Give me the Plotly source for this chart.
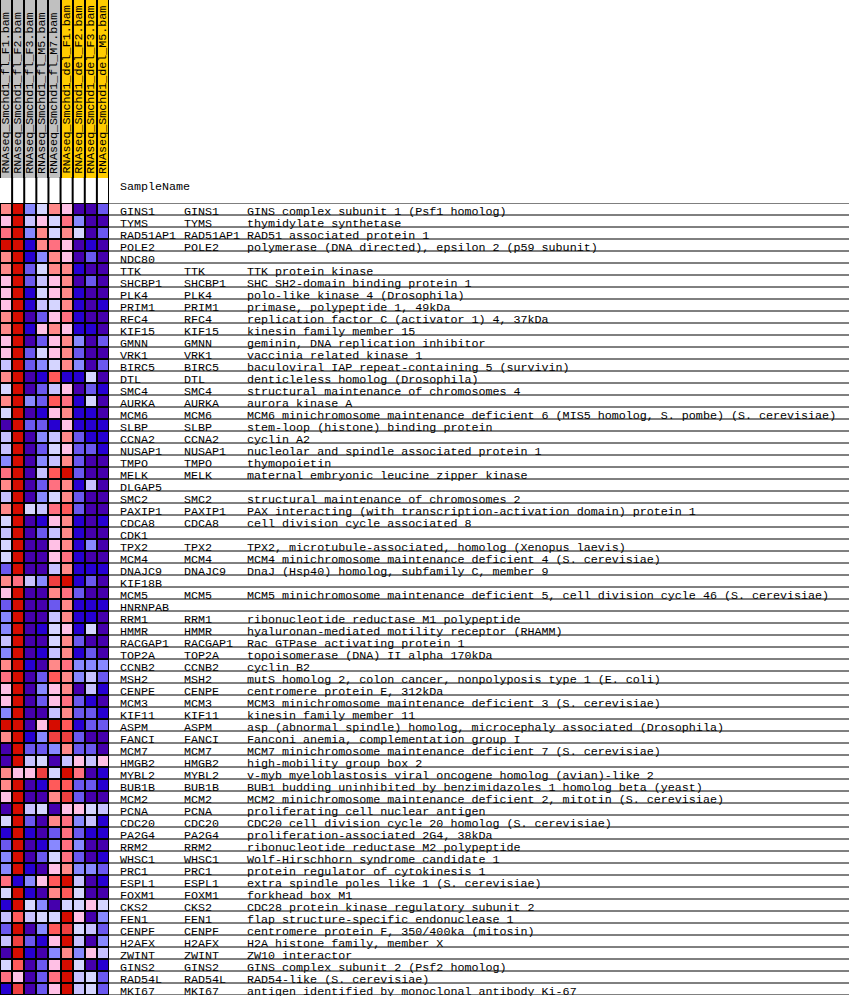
import plotly.graph_objects as go

W, H = 849, 996

samples = ["RNAseq_Smchd1_fl_F1.bam", "RNAseq_Smchd1_fl_F2.bam", "RNAseq_Smchd1_fl_F3.bam",
           "RNAseq_Smchd1_fl_M5.bam", "RNAseq_Smchd1_fl_M7.bam", "RNAseq_Smchd1_del_F1.bam",
           "RNAseq_Smchd1_del_F2.bam", "RNAseq_Smchd1_del_F3.bam", "RNAseq_Smchd1_del_M5.bam"]
sample_group = [0, 0, 0, 0, 0, 1, 1, 1, 1]

genes = ["GINS1", "TYMS", "RAD51AP1", "POLE2", "NDC80", "TTK", "SHCBP1", "PLK4", "PRIM1", "RFC4",
         "KIF15", "GMNN", "VRK1", "BIRC5", "DTL", "SMC4", "AURKA", "MCM6", "SLBP", "CCNA2",
         "NUSAP1", "TMPO", "MELK", "DLGAP5", "SMC2", "PAXIP1", "CDCA8", "CDK1", "TPX2", "MCM4",
         "DNAJC9", "KIF18B", "MCM5", "HNRNPAB", "RRM1", "HMMR", "RACGAP1", "TOP2A", "CCNB2", "MSH2",
         "CENPE", "MCM3", "KIF11", "ASPM", "FANCI", "MCM7", "HMGB2", "MYBL2", "BUB1B", "MCM2",
         "PCNA", "CDC20", "PA2G4", "RRM2", "WHSC1", "PRC1", "ESPL1", "FOXM1", "CKS2", "FEN1",
         "CENPF", "H2AFX", "ZWINT", "GINS2", "RAD54L", "MKI67"]

symbols = ["GINS1", "TYMS", "RAD51AP1", "POLE2", "", "TTK", "SHCBP1", "PLK4", "PRIM1", "RFC4",
           "KIF15", "GMNN", "VRK1", "BIRC5", "DTL", "SMC4", "AURKA", "MCM6", "SLBP", "CCNA2",
           "NUSAP1", "TMPO", "MELK", "", "SMC2", "PAXIP1", "CDCA8", "", "TPX2", "MCM4",
           "DNAJC9", "", "MCM5", "", "RRM1", "HMMR", "RACGAP1", "TOP2A", "CCNB2", "MSH2",
           "CENPE", "MCM3", "KIF11", "ASPM", "FANCI", "MCM7", "HMGB2", "MYBL2", "BUB1B", "MCM2",
           "PCNA", "CDC20", "PA2G4", "RRM2", "WHSC1", "PRC1", "ESPL1", "FOXM1", "CKS2", "FEN1",
           "CENPF", "H2AFX", "ZWINT", "GINS2", "RAD54L", "MKI67"]

descriptions = [
    "GINS complex subunit 1 (Psf1 homolog)",
    "thymidylate synthetase",
    "RAD51 associated protein 1",
    "polymerase (DNA directed), epsilon 2 (p59 subunit)",
    "",
    "TTK protein kinase",
    "SHC SH2-domain binding protein 1",
    "polo-like kinase 4 (Drosophila)",
    "primase, polypeptide 1, 49kDa",
    "replication factor C (activator 1) 4, 37kDa",
    "kinesin family member 15",
    "geminin, DNA replication inhibitor",
    "vaccinia related kinase 1",
    "baculoviral IAP repeat-containing 5 (survivin)",
    "denticleless homolog (Drosophila)",
    "structural maintenance of chromosomes 4",
    "aurora kinase A",
    "MCM6 minichromosome maintenance deficient 6 (MIS5 homolog, S. pombe) (S. cerevisiae)",
    "stem-loop (histone) binding protein",
    "cyclin A2",
    "nucleolar and spindle associated protein 1",
    "thymopoietin",
    "maternal embryonic leucine zipper kinase",
    "",
    "structural maintenance of chromosomes 2",
    "PAX interacting (with transcription-activation domain) protein 1",
    "cell division cycle associated 8",
    "",
    "TPX2, microtubule-associated, homolog (Xenopus laevis)",
    "MCM4 minichromosome maintenance deficient 4 (S. cerevisiae)",
    "DnaJ (Hsp40) homolog, subfamily C, member 9",
    "",
    "MCM5 minichromosome maintenance deficient 5, cell division cycle 46 (S. cerevisiae)",
    "",
    "ribonucleotide reductase M1 polypeptide",
    "hyaluronan-mediated motility receptor (RHAMM)",
    "Rac GTPase activating protein 1",
    "topoisomerase (DNA) II alpha 170kDa",
    "cyclin B2",
    "mutS homolog 2, colon cancer, nonpolyposis type 1 (E. coli)",
    "centromere protein E, 312kDa",
    "MCM3 minichromosome maintenance deficient 3 (S. cerevisiae)",
    "kinesin family member 11",
    "asp (abnormal spindle) homolog, microcephaly associated (Drosophila)",
    "Fanconi anemia, complementation group I",
    "MCM7 minichromosome maintenance deficient 7 (S. cerevisiae)",
    "high-mobility group box 2",
    "v-myb myeloblastosis viral oncogene homolog (avian)-like 2",
    "BUB1 budding uninhibited by benzimidazoles 1 homolog beta (yeast)",
    "MCM2 minichromosome maintenance deficient 2, mitotin (S. cerevisiae)",
    "proliferating cell nuclear antigen",
    "CDC20 cell division cycle 20 homolog (S. cerevisiae)",
    "proliferation-associated 2G4, 38kDa",
    "ribonucleotide reductase M2 polypeptide",
    "Wolf-Hirschhorn syndrome candidate 1",
    "protein regulator of cytokinesis 1",
    "extra spindle poles like 1 (S. cerevisiae)",
    "forkhead box M1",
    "CDC28 protein kinase regulatory subunit 2",
    "flap structure-specific endonuclease 1",
    "centromere protein F, 350/400ka (mitosin)",
    "H2A histone family, member X",
    "ZW10 interactor",
    "GINS complex subunit 2 (Psf2 homolog)",
    "RAD54-like (S. cerevisiae)",
    "antigen identified by monoclonal antibody Ki-67",
]

# expression level bins (0 = lowest/blue ... 11 = highest/red)
levels = [
    [7, 11, 3, 5, 7, 6, 0, 0, 2],
    [6, 11, 4, 6, 5, 8, 3, 0, 0],
    [8, 11, 3, 7, 5, 7, 5, 0, 2],
    [11, 11, 1, 7, 8, 6, 0, 1, 0],
    [7, 11, 1, 3, 7, 6, 0, 2, 0],
    [7, 11, 2, 5, 7, 7, 1, 0, 0],
    [6, 11, 2, 4, 6, 7, 0, 2, 0],
    [6, 11, 1, 5, 6, 7, 1, 0, 0],
    [6, 11, 1, 4, 5, 7, 1, 0, 1],
    [7, 11, 0, 2, 6, 8, 1, 0, 0],
    [7, 11, 1, 6, 7, 6, 1, 1, 0],
    [6, 11, 0, 2, 6, 7, 3, 0, 2],
    [6, 11, 2, 5, 6, 7, 2, 0, 0],
    [4, 11, 2, 3, 5, 7, 3, 0, 2],
    [7, 11, 0, 1, 9, 1, 1, 5, 0],
    [5, 11, 0, 2, 4, 6, 0, 2, 1],
    [7, 11, 3, 2, 9, 8, 1, 5, 0],
    [5, 11, 0, 1, 6, 7, 1, 1, 0],
    [0, 11, 2, 2, 1, 6, 1, 1, 1],
    [4, 11, 0, 3, 4, 7, 2, 1, 1],
    [4, 11, 0, 2, 5, 6, 2, 2, 1],
    [3, 11, 0, 3, 4, 7, 2, 0, 0],
    [8, 11, 0, 4, 9, 11, 2, 0, 0],
    [7, 11, 0, 2, 8, 7, 1, 4, 0],
    [4, 11, 0, 3, 5, 7, 2, 0, 0],
    [7, 11, 5, 4, 8, 9, 2, 0, 0],
    [5, 11, 0, 1, 6, 7, 1, 0, 1],
    [4, 11, 0, 2, 4, 7, 1, 0, 0],
    [5, 11, 0, 0, 6, 7, 1, 3, 0],
    [5, 11, 0, 0, 6, 8, 1, 0, 0],
    [2, 11, 0, 0, 4, 7, 1, 1, 1],
    [7, 8, 4, 3, 10, 11, 1, 2, 0],
    [6, 11, 0, 0, 7, 8, 2, 0, 0],
    [2, 11, 0, 0, 2, 7, 1, 1, 1],
    [3, 11, 0, 0, 4, 7, 1, 1, 0],
    [3, 11, 0, 1, 5, 6, 1, 5, 0],
    [4, 11, 0, 0, 5, 7, 2, 0, 0],
    [3, 11, 0, 1, 4, 7, 1, 2, 0],
    [7, 11, 1, 0, 7, 8, 3, 3, 3],
    [8, 11, 0, 2, 9, 7, 3, 4, 2],
    [6, 11, 0, 3, 6, 7, 0, 4, 1],
    [6, 11, 0, 2, 6, 8, 2, 1, 0],
    [3, 11, 0, 0, 4, 7, 2, 2, 1],
    [11, 11, 0, 6, 11, 9, 1, 2, 2],
    [7, 11, 1, 3, 10, 10, 2, 0, 0],
    [0, 11, 2, 2, 3, 7, 2, 2, 0],
    [0, 11, 4, 5, 0, 4, 6, 4, 6],
    [7, 6, 6, 10, 5, 11, 8, 0, 1],
    [7, 11, 0, 1, 9, 9, 2, 2, 1],
    [6, 11, 0, 0, 7, 10, 2, 0, 0],
    [0, 11, 4, 5, 0, 6, 6, 5, 4],
    [5, 11, 2, 0, 7, 8, 3, 4, 1],
    [1, 11, 1, 0, 2, 8, 2, 1, 1],
    [2, 11, 0, 1, 3, 8, 3, 0, 0],
    [3, 11, 0, 2, 5, 8, 2, 0, 1],
    [3, 11, 1, 0, 6, 7, 3, 3, 2],
    [8, 1, 3, 6, 9, 11, 4, 0, 1],
    [5, 11, 1, 0, 7, 9, 5, 0, 0],
    [1, 11, 5, 3, 0, 5, 5, 6, 5],
    [4, 9, 4, 5, 5, 11, 6, 0, 3],
    [2, 11, 0, 3, 9, 10, 5, 4, 2],
    [4, 10, 2, 1, 6, 11, 4, 0, 3],
    [0, 11, 1, 0, 3, 7, 3, 6, 4],
    [5, 9, 0, 2, 6, 11, 5, 0, 1],
    [8, 6, 0, 2, 8, 11, 4, 5, 2],
    [1, 10, 0, 2, 6, 11, 4, 5, 2],
]

palette = ["#4500AD", "#2700D1", "#6B58EF", "#8888FF", "#C7C1FF", "#D5D5FF",
           "#FFC0E5", "#FF8989", "#FF7080", "#FF5A5A", "#EF4040", "#D60C00"]
n = len(palette)
cscale = []
for k, c in enumerate(palette):
    cscale.append([k / n, c])
    cscale.append([(k + 1) / n, c])

FONT = "Liberation Mono"
FS = 11.7

def px_x(p):
    return p / W

def px_y(p):
    return 1 - p / H

nrow, ncol = len(genes), len(samples)

fig = go.Figure()

fig.add_trace(go.Heatmap(
    z=levels, x=samples, y=genes, colorscale=cscale, zmin=-0.5, zmax=n - 0.5,
    xgap=2, ygap=2, showscale=False, hoverinfo="skip", xaxis="x", yaxis="y"))

fig.add_trace(go.Heatmap(
    z=[sample_group], x=samples, y=["group"],
    colorscale=[[0, "#C0C0C0"], [1, "#FFCC00"]], zmin=0, zmax=1,
    xgap=2, ygap=0, showscale=False, hoverinfo="skip", xaxis="x2", yaxis="y2"))

hx0, hx1 = 0, 109
fig.update_layout(
    width=W, height=H, margin=dict(l=0, r=0, t=0, b=0),
    paper_bgcolor="white", plot_bgcolor="black", showlegend=False,
    xaxis=dict(domain=[px_x(hx0), px_x(hx1)], visible=False, fixedrange=True,
               range=[-0.5, ncol - 0.5]),
    yaxis=dict(domain=[px_y(995), px_y(203)], visible=False, fixedrange=True,
               range=[nrow - 0.5, -0.5]),
    xaxis2=dict(domain=[px_x(hx0), px_x(hx1)], visible=False, anchor="y2", fixedrange=True,
                range=[-0.5, ncol - 0.5]),
    yaxis2=dict(domain=[px_y(178), 1], visible=False, anchor="x2", fixedrange=True,
                range=[-0.5, 0.5]),
)

shapes = []
# column separators in the white strip between header and rows
for j in range(ncol):
    shapes.append(dict(type="line", xref="x2", yref="paper", x0=j + 0.5, x1=j + 0.5,
                       y0=px_y(204), y1=px_y(177), line=dict(color="black", width=2)))
# row lines
for i in range(nrow + 1):
    shapes.append(dict(type="line", xref="paper", yref="y", x0=px_x(108), x1=1,
                       y0=i - 0.5, y1=i - 0.5, line=dict(color="black", width=1)))
fig.update_layout(shapes=shapes)

ann = []
for j, s in enumerate(samples):
    ann.append(dict(text=s, xref="x2", yref="paper", x=s, y=px_y(176), xanchor="center",
                    yanchor="bottom", textangle=-90, showarrow=False,
                    font=dict(family=FONT, size=FS, color="black")))

ann.append(dict(text="SampleName", xref="paper", yref="paper", x=px_x(118), y=px_y(187),
                xanchor="left", yanchor="middle", showarrow=False,
                font=dict(family=FONT, size=FS, color="black")))

cols = [(118, genes), (182, symbols), (245, descriptions)]
for x0, arr in cols:
    for i, t in enumerate(arr):
        if not t:
            continue
        ann.append(dict(text=t, xref="paper", yref="y", x=px_x(x0), y=genes[i],
                        xanchor="left", yanchor="middle", yshift=-3, showarrow=False,
                        font=dict(family=FONT, size=FS, color="black")))
fig.update_layout(annotations=ann)

fig.write_html("out.html", config={"displayModeBar": False},
               post_script="document.body.style.margin='0';document.body.style.overflow='hidden';")
